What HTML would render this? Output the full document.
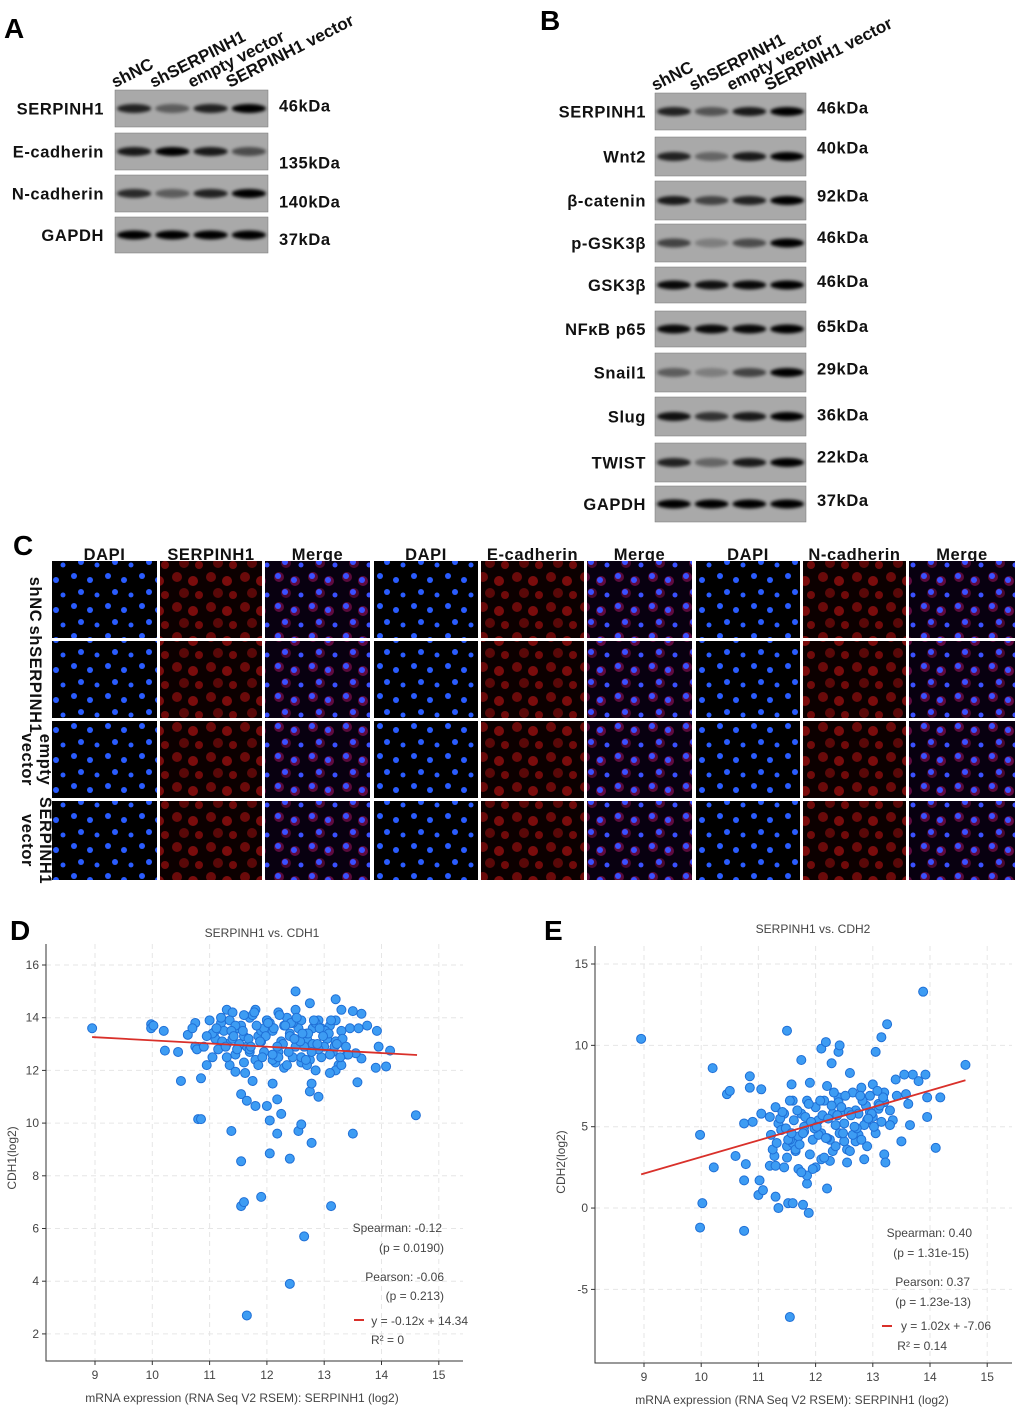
<!DOCTYPE html>
<html><head><meta charset="utf-8">
<style>
body{margin:0;background:#fff;}
svg{display:block;}
text{font-family:"Liberation Sans",Arial,sans-serif;}
.pl{font-weight:bold;font-size:28px;fill:#000;}
.bl{font-weight:bold;font-size:16.5px;fill:#111;letter-spacing:0.6px;}
.ln{font-weight:bold;font-size:17px;fill:#111;}
.sc{font-size:12px;fill:#444;}
</style></head>
<body>
<svg id="fig" width="1020" height="1413" viewBox="0 0 1020 1413">
<defs>
<filter id="blur" x="-30%" y="-100%" width="160%" height="300%"><feGaussianBlur stdDeviation="1.5"/></filter>
<pattern id="pBlue" width="34" height="30" patternUnits="userSpaceOnUse">
<rect width="34" height="30" fill="#000"/>
<circle cx="6" cy="6" r="3" fill="#2a5cff"/><circle cx="22" cy="10" r="3" fill="#2a5cff"/>
<circle cx="13" cy="22" r="3" fill="#2a5cff"/><circle cx="29" cy="25" r="2.5" fill="#2a5cff"/>
</pattern>
<pattern id="pRed" width="34" height="30" patternUnits="userSpaceOnUse">
<rect width="34" height="30" fill="#0c0000"/>
<circle cx="7" cy="7" r="5" fill="#6a0a0a"/><circle cx="23" cy="11" r="5" fill="#7a0c0c"/>
<circle cx="14" cy="23" r="5" fill="#5a0808"/><circle cx="29" cy="25" r="4" fill="#700a0a"/>
</pattern>
<pattern id="pMerge" width="34" height="30" patternUnits="userSpaceOnUse">
<rect width="34" height="30" fill="#080010"/>
<circle cx="7" cy="7" r="5" fill="#5a0a3a"/><circle cx="23" cy="11" r="5" fill="#600a40"/>
<circle cx="14" cy="23" r="5" fill="#4a0830"/>
<circle cx="6" cy="6" r="3" fill="#3a50ff"/><circle cx="22" cy="10" r="3" fill="#3a50ff"/>
<circle cx="13" cy="22" r="3" fill="#3a50ff"/><circle cx="29" cy="25" r="2.5" fill="#3a50ff"/>
</pattern>
</defs>
<g id="gA"></g>
<g id="gB"></g>
<g id="gC"></g>
<g id="gD"></g>
<g id="gE"></g>
</svg>
<script>
const NS="http://www.w3.org/2000/svg";
function mk(p,t,a,txt){const e=document.createElementNS(NS,t);for(const k in a)e.setAttribute(k,a[k]);if(txt!==undefined)e.textContent=txt;p.appendChild(e);return e;}

// ---------- Western blot data ----------
const laneNames=["shNC","shSERPINH1","empty vector","SERPINH1 vector"];
const blotA=["SERPINH1","E-cadherin","N-cadherin","GAPDH"];
const kdaA=["46kDa","135kDa","140kDa","37kDa"];
const intensA=[[0.8,0.45,0.8,1],[0.85,1,0.85,0.55],[0.75,0.45,0.8,1],[1,1,1,1]];
const blotB=["SERPINH1","Wnt2","β-catenin","p-GSK3β","GSK3β","NFκB p65","Snail1","Slug","TWIST","GAPDH"];
const kdaB=["46kDa","40kDa","92kDa","46kDa","46kDa","65kDa","29kDa","36kDa","22kDa","37kDa"];
const intensB=[[0.8,0.5,0.85,1],[0.8,0.4,0.85,1],[0.85,0.6,0.8,1],[0.6,0.25,0.55,1],[0.95,0.9,0.95,1],[0.95,0.95,0.95,1],[0.45,0.25,0.6,1],[0.9,0.7,0.85,1],[0.8,0.4,0.85,1],[1,1,1,1]];

function blots(g,x0,w,rows,names,kdas,intens,labX,kdaX,gap){
  rows.forEach((r,i)=>{
    const box=mk(g,"rect",{x:x0,y:r[0],width:w,height:r[1]-r[0],fill:"#a9a9a9",stroke:"#777","stroke-width":0.5});
    
    
    const cy=(r[0]+r[1])/2;
    intens[i].forEach((v,j)=>{
      const cx=x0+w/8+j*w/4;
      const b=mk(g,"ellipse",{cx:cx,cy:cy,rx:w/8-2,ry:4.5,fill:"#000",opacity:v,filter:"url(#blur)"});
      
      
    });
    const l=mk(g,"text",{x:labX,y:cy+6,"text-anchor":"end",class:"bl"},names[i]);
    
    
    const k=mk(g,"text",{x:kdaX,y:cy+6+gap[i],class:"bl"},kdas[i]);
    
    
  });
}
function lanes(g,x0,w,y){
  laneNames.forEach((n,j)=>{
    const x=x0+j*w/4-2;
    const t=mk(g,"text",{x:x,y:y,class:"ln",transform:`rotate(-27 ${x} ${y})`},n);
    
    
  });
}
const gA=document.getElementById("gA");
mk(gA,"text",{x:4,y:38,class:"pl"},"A");
lanes(gA,117,153,88);
blots(gA,115,153,[[90,127],[133,170],[175,212],[217,253]],blotA,kdaA,intensA,104,279,[-3,11,8,4]);
const gB=document.getElementById("gB");
mk(gB,"text",{x:540,y:30,class:"pl"},"B");
lanes(gB,657,151,91);
blots(gB,655,151,[[93,130],[137,176],[181,220],[224,262],[267,303],[311,347],[353,392],[397,436],[443,482],[486,522]],blotB,kdaB,intensB,646,817,[-4,-9,-5,-6,-4,-3,-4,-2,-6,-4]);

// ---------- Panel C immunofluorescence ----------
const gC=document.getElementById("gC");
mk(gC,"text",{x:13,y:555,class:"pl"},"C");
const colX=[[52,157],[160,262],[265,370],[374,478],[481,584],[587,692],[696,800],[803,906],[909,1015]];
const colHead=["DAPI","SERPINH1","Merge","DAPI","E-cadherin","Merge","DAPI","N-cadherin","Merge"];
const rowY=[[561,638],[641,718],[721,798],[801,880]];
colX.forEach((c,i)=>{
  const t=mk(gC,"text",{x:(c[0]+c[1])/2,y:560,"text-anchor":"middle",class:"bl"},colHead[i]);
  
  
  rowY.forEach(r=>{
    const f=i%3===0?"url(#pBlue)":(i%3===1?"url(#pRed)":"url(#pMerge)");
    const im=mk(gC,"rect",{x:c[0],y:r[0],width:c[1]-c[0],height:r[1]-r[0],fill:f});
    
    
  });
});
const rowLab=[["shNC"],["shSERPINH1"],["empty","vector"],["SERPINH1","vector"]];
rowLab.forEach((L,i)=>{
  const cy=(rowY[i][0]+rowY[i][1])/2;
  L.forEach((s,k)=>{
    const x=L.length===1?30:(k===0?40:22);
    const t=mk(gC,"text",{x:x,y:cy,"text-anchor":"middle",class:"bl",transform:`rotate(90 ${x} ${cy})`},s);
    
    
  });
});

// ---------- Scatter data ----------
const dX=[8.95,9.98,9.98,10.02,10.2,10.22,10.45,10.5,10.62,10.75,10.75,10.78,10.85,10.8,10.85,10.9,10.95,11.05,11.0,11.1,11.3,11.35,11.38,11.45,11.55,11.55,11.55,11.6,11.62,11.65,11.65,11.75,11.8,11.9,12.0,12.05,12.1,12.05,12.18,12.18,12.25,12.4,12.4,12.55,12.6,12.65,12.75,12.78,12.78,12.9,13.12,13.5,13.58,13.9,14.08,14.15,14.6,12.5,13.2,12.75,13.3,13.5,13.65,13.92,13.95,13.65,13.55,
11.1,11.2,11.3,11.4,11.5,11.6,11.7,11.8,11.9,12.0,12.1,12.2,12.3,12.4,12.5,12.6,12.7,12.8,12.9,13.0,13.1,13.2,13.3,
11.15,11.25,11.35,11.45,11.55,11.65,11.75,11.85,11.95,12.05,12.15,12.25,12.35,12.45,12.55,12.65,12.75,12.85,12.95,13.05,13.15,13.25,
11.2,11.4,11.6,11.8,12.0,12.2,12.4,12.6,12.8,13.0,13.2,13.4,11.3,11.5,11.7,11.9,12.1,12.3,12.5,12.7,12.9,13.1,13.3,
11.45,11.7,11.95,12.2,12.45,12.7,12.95,13.2,11.6,11.85,12.1,12.35,12.6,12.85,13.1,
11.05,11.22,11.38,11.52,11.68,11.82,11.98,12.12,12.28,12.42,12.58,12.72,12.88,13.02,13.18,13.32,13.45,
11.12,11.28,11.42,11.58,11.72,11.88,12.02,12.18,12.32,12.48,12.62,12.78,12.92,13.08,13.22,13.38,
10.7,10.95,11.78,12.22,12.52,12.82,13.12,13.42,13.6,13.75,11.48,11.92,12.38,12.68,12.98,13.28];
const dY=[13.6,13.75,13.6,13.7,13.5,12.75,12.7,11.6,13.35,13.8,12.9,12.8,11.7,10.15,10.15,12.9,12.2,12.5,13.9,13.5,14.3,12.2,9.7,11.95,11.1,8.55,6.85,7.0,11.9,10.85,2.7,11.6,10.65,7.2,10.65,10.1,11.5,8.85,10.9,9.6,10.35,8.65,3.9,9.7,9.95,5.7,11.2,11.5,9.25,11.0,6.85,9.6,11.55,12.1,12.15,12.75,10.3,15.0,14.7,14.55,14.3,14.25,14.15,13.5,12.9,12.45,12.65,
13.2,13.8,13.0,14.2,13.6,13.3,14.0,14.3,13.1,13.9,13.5,14.2,13.7,13.4,14.3,13.9,13.2,13.6,13.9,13.3,13.7,13.1,13.5,
12.8,13.5,13.9,12.6,13.7,12.9,14.1,13.3,12.7,13.8,12.3,13.1,14.0,12.5,13.6,12.9,12.4,13.8,12.5,13.2,12.7,12.2,
14.0,13.2,14.1,12.4,13.9,12.7,13.3,12.3,13.0,12.9,12.0,12.6,12.5,12.9,12.7,13.5,12.4,12.1,12.9,12.2,12.8,12.6,12.2,
13.7,12.8,13.6,12.5,13.8,13.4,13.6,13.9,12.3,12.2,12.6,12.2,12.5,12.0,11.9,
13.4,13.1,13.5,13.0,13.2,13.7,13.3,13.6,13.0,13.8,13.1,13.4,13.0,13.5,12.9,13.2,13.6,
13.6,12.9,13.3,13.5,12.9,13.1,13.8,12.9,13.7,13.2,13.4,12.7,13.6,13.4,13.0,12.9,
13.6,13.3,14.2,14.1,14.0,13.9,13.9,12.6,13.6,13.7,12.8,12.5,12.7,12.4,13.3,12.5];

const eX=[8.95,9.98,9.98,10.02,10.2,10.22,10.45,10.5,10.6,10.75,10.75,10.75,10.78,10.85,10.85,10.9,11.0,11.02,11.05,11.05,11.08,11.2,11.28,11.3,11.35,11.5,11.52,11.55,11.6,11.58,11.75,11.78,11.85,11.88,12.1,12.18,12.2,12.28,12.4,12.42,13.05,13.15,13.25,13.2,13.22,13.5,13.65,13.7,13.88,13.92,13.95,14.1,14.18,14.62,13.95,13.55,
11.2,11.3,11.4,11.5,11.6,11.7,11.8,11.9,12.0,12.1,12.2,12.3,12.4,12.5,12.6,12.7,12.8,12.9,13.0,13.1,13.2,13.3,13.4,
11.25,11.35,11.45,11.55,11.65,11.75,11.85,11.95,12.05,12.15,12.25,12.35,12.45,12.55,12.65,12.75,12.85,12.95,13.05,13.15,13.35,
11.3,11.5,11.7,11.9,12.1,12.3,12.5,12.7,12.9,13.1,13.3,11.4,11.6,11.8,12.0,12.2,12.4,12.6,12.8,13.0,13.2,
11.45,11.65,11.85,12.05,12.25,12.45,12.65,12.85,11.55,11.75,11.95,12.15,12.35,12.55,12.75,12.95,
11.22,11.38,11.52,11.68,11.82,11.98,12.12,12.28,12.42,12.58,12.72,12.88,13.02,13.18,
11.32,11.48,11.62,11.78,11.92,12.08,12.22,12.38,12.52,12.68,12.82,12.98,13.12,
11.42,11.58,11.72,11.88,12.02,12.18,12.32,12.48,12.62,12.78,12.92,13.08,13.42,13.58,13.62,13.8];
const eY=[10.4,4.5,-1.2,0.3,8.6,2.5,7.0,7.2,3.2,5.2,1.7,-1.4,2.7,8.1,7.4,5.3,0.8,1.7,5.8,7.3,1.1,2.6,3.2,0.7,0.0,10.9,0.3,-6.7,0.3,7.6,9.1,0.2,1.5,-0.3,9.8,10.2,1.2,8.9,9.6,10.0,9.6,10.5,11.3,3.3,2.8,4.1,5.1,8.2,13.3,8.2,5.6,3.7,6.8,8.8,6.8,8.2,
5.6,6.2,4.8,3.8,6.6,4.4,5.0,7.7,6.2,4.6,7.5,5.8,6.8,5.2,8.3,6.0,7.4,5.4,7.6,6.4,7.1,6.0,7.9,
3.6,5.2,5.8,6.6,3.5,5.8,6.6,4.2,5.4,6.6,4.2,5.1,5.9,3.6,7.1,4.5,5.1,6.9,4.6,5.3,5.4,
2.6,3.1,2.4,3.3,3.0,3.5,4.1,4.1,3.8,6.1,5.1,4.8,4.0,4.7,2.5,4.3,6.5,3.5,4.2,5.6,6.5,
2.5,3.6,2.0,4.5,2.9,6.2,4.5,3.0,4.2,2.2,2.4,3.1,3.8,2.8,5.8,5.9,
4.5,5.5,4.2,6.0,5.6,4.9,5.7,6.3,4.6,5.9,4.9,6.3,5.0,6.8,
4.0,4.9,5.4,4.6,5.3,6.6,5.5,5.7,6.9,5.0,6.6,5.8,6.3,
5.9,4.6,3.9,6.4,5.0,4.3,7.1,4.6,5.7,6.9,5.5,7.2,6.9,7.0,6.4,7.8];

function scatter(g,o){
  const sx=v=>o.x9+(v-9)*o.ux, sy=v=>o.yRef-(v-o.yRefV)*o.uy;
  o.xt.forEach(v=>{mk(g,"line",{x1:sx(v),x2:sx(v),y1:o.top,y2:o.bot,stroke:"#e6e6e6","stroke-dasharray":"5,4"});});
  o.yt.forEach(v=>{mk(g,"line",{x1:o.left,x2:o.right,y1:sy(v),y2:sy(v),stroke:"#e6e6e6","stroke-dasharray":"5,4"});});
  const ax=mk(g,"path",{d:`M${o.left},${o.top}V${o.bot}H${o.right}`,fill:"none",stroke:"#333","stroke-width":1});
  
  
  o.xt.forEach(v=>{mk(g,"line",{x1:sx(v),x2:sx(v),y1:o.bot,y2:o.bot+4,stroke:"#333"});
    const t=mk(g,"text",{x:sx(v),y:o.bot+18,"text-anchor":"middle",class:"sc"},String(v));
    
    });
  o.yt.forEach(v=>{mk(g,"line",{x1:o.left-4,x2:o.left,y1:sy(v),y2:sy(v),stroke:"#333"});
    const t=mk(g,"text",{x:o.left-7,y:sy(v)+4,"text-anchor":"end",class:"sc"},String(v));
    
    });
  o.X.forEach((v,i)=>{
    const c=mk(g,"circle",{cx:sx(v),cy:sy(o.Y[i]),r:4.5,fill:"#3d9cf3",stroke:"#1f6fd6","stroke-width":1});
    
    
  });
  const ln=mk(g,"line",{x1:sx(o.l0),y1:sy(o.slope*o.l0+o.icpt),x2:sx(o.l1),y2:sy(o.slope*o.l1+o.icpt),stroke:"#d9302a","stroke-width":1.8});
  
  
  const tt=mk(g,"text",{x:o.tx,y:o.ty,"text-anchor":"middle",class:"sc"},o.title);
  
  
  const xl=mk(g,"text",{x:o.xlx,y:o.bot+41,"text-anchor":"middle",class:"sc"},"mRNA expression (RNA Seq V2 RSEM): SERPINH1 (log2)");
  
  
  const yx=o.left-30, yy=o.ylY;
  const yl=mk(g,"text",{x:yx,y:yy,"text-anchor":"middle",class:"sc",transform:`rotate(-90 ${yx} ${yy})`},o.ylab);
  
  
  o.stats.forEach(s=>{const t=mk(g,"text",{x:s[0],y:s[1],"text-anchor":"end",class:"sc"},s[2]);
    
    });
  mk(g,"line",{x1:o.leg[0],x2:o.leg[0]+10,y1:o.leg[1],y2:o.leg[1],stroke:"#d9302a","stroke-width":2});
}
const gD=document.getElementById("gD");
mk(gD,"text",{x:10,y:940,class:"pl"},"D");
scatter(gD,{X:dX,Y:dY,x9:95,ux:57.3,yRef:965,yRefV:16,uy:26.35,left:46,right:463,top:944,bot:1361,
 xt:[9,10,11,12,13,14,15],yt:[2,4,6,8,10,12,14,16],l0:8.95,l1:14.62,slope:-0.12,icpt:14.34,
 title:"SERPINH1 vs. CDH1",tx:262,ty:937,xlx:242,ylab:"CDH1(log2)",ylY:1158,
 stats:[[442,1232,"Spearman: -0.12"],[444,1252,"(p = 0.0190)"],[444,1281,"Pearson: -0.06"],[444,1300,"(p = 0.213)"],[468,1325,"y = -0.12x + 14.34"],[404,1344,"R² = 0"]],leg:[354,1320]});
const gE=document.getElementById("gE");
mk(gE,"text",{x:544,y:940,class:"pl"},"E");
scatter(gE,{X:eX,Y:eY,x9:644,ux:57.2,yRef:964,yRefV:15,uy:16.27,left:595,right:1012,top:946,bot:1363,
 xt:[9,10,11,12,13,14,15],yt:[-5,0,5,10,15],l0:8.95,l1:14.62,slope:1.02,icpt:-7.06,
 title:"SERPINH1 vs. CDH2",tx:813,ty:933,xlx:792,ylab:"CDH2(log2)",ylY:1162,
 stats:[[972,1237,"Spearman: 0.40"],[969,1257,"(p = 1.31e-15)"],[970,1286,"Pearson: 0.37"],[971,1306,"(p = 1.23e-13)"],[991,1330,"y = 1.02x + -7.06"],[947,1350,"R² = 0.14"]],leg:[882,1326]});
</script>
</body></html>
